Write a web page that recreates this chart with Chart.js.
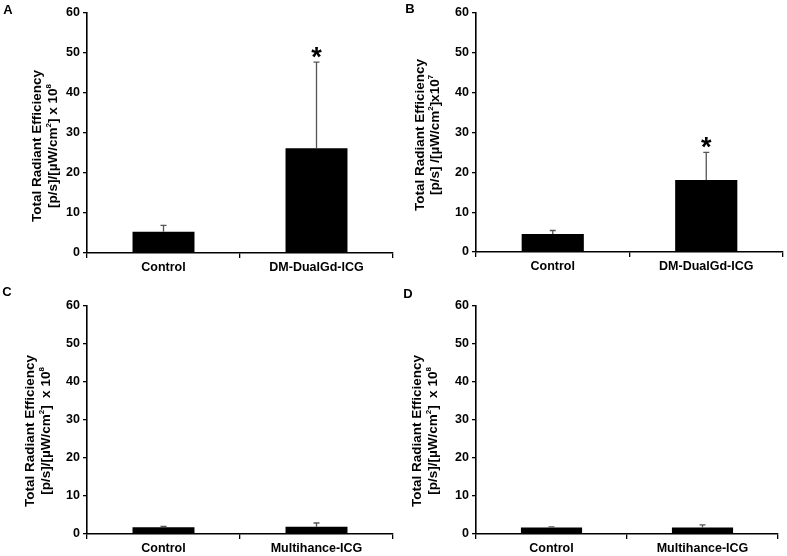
<!DOCTYPE html>
<html>
<head>
<meta charset="utf-8">
<script src="https://cdn.jsdelivr.net/npm/chart.js@4"></script>
<style>
  body { margin: 0; background: #fff; }
  #wrap { position: relative; width: 787px; height: 556px; }
  canvas { position: absolute; }
</style>
</head>
<body>
<div id="wrap">
  <canvas id="chartA" width="395" height="280" style="left:0;top:0"></canvas>
  <canvas id="chartB" width="397" height="280" style="left:390px;top:0"></canvas>
  <canvas id="chartC" width="395" height="276" style="left:0;top:280px"></canvas>
  <canvas id="chartD" width="397" height="276" style="left:390px;top:280px"></canvas>
</div>
<script>
// 데이터
const categoriesAB = ['Control', 'DM-DualGd-ICG'];
const categoriesCD = ['Control', 'Multihance-ICG'];
const yTicks = [0, 10, 20, 30, 40, 50, 60];

const meanA = [5.3, 26.2];
const errA = [1.6, 21.5];
const sigA = [false, true];

const meanB = [4.5, 18.1];
const errB = [0.9, 6.9];
const sigB = [false, true];

const meanC = [1.8, 1.9];
const errC = [0.2, 1.0];
const sigC = [false, false];

const meanD = [1.7, 1.7];
const errD = [0.2, 0.7];
const sigD = [false, false];

const FONT = 'Arial, "Liberation Sans", sans-serif';

// 위첨자 포함 텍스트 한 줄 그리기 (가운데 정렬)
function drawRich(ctx, segs, x, y, size) {
    const supSize = Math.round(size * 0.58);
    let total = 0;
    segs.forEach(s => {
        ctx.font = 'bold ' + (s.sup ? supSize : size) + 'px ' + FONT;
        total += ctx.measureText(s.t).width;
    });
    let cx = x - total / 2;
    segs.forEach(s => {
        ctx.font = 'bold ' + (s.sup ? supSize : size) + 'px ' + FONT;
        ctx.fillText(s.t, cx, s.sup ? y - size * 0.3 : y);
        cx += ctx.measureText(s.t).width;
    });
}

const extrasPlugin = {
    id: 'extras',
    afterDatasetsDraw(chart, args, opts) {
        const ctx = chart.ctx;
        const x = chart.scales.x;
        const y = chart.scales.y;
        ctx.save();
        // 에러바 (위쪽만)
        opts.mean.forEach((m, i) => {
            const px = x.getPixelForValue(i);
            const top = y.getPixelForValue(m + opts.err[i]);
            const base = y.getPixelForValue(m);
            ctx.strokeStyle = '#555';
            ctx.lineWidth = 1.3;
            ctx.beginPath();
            ctx.moveTo(px, base);
            ctx.lineTo(px, top);
            ctx.moveTo(px - 3, top);
            ctx.lineTo(px + 3, top);
            ctx.stroke();
            if (opts.sig[i]) {
                ctx.fillStyle = '#000';
                ctx.font = 'bold 27px ' + FONT;
                ctx.textAlign = 'center';
                ctx.textBaseline = 'alphabetic';
                ctx.fillText('*', px, top + 4);
            }
        });
        // 패널 문자
        ctx.fillStyle = '#000';
        ctx.textAlign = 'center';
        ctx.textBaseline = 'middle';
        ctx.font = 'bold 13px ' + FONT;
        ctx.fillText(opts.letter, opts.letterPos[0], opts.letterPos[1]);
        // y축 제목 (회전)
        ctx.textAlign = 'left';
        opts.title.forEach((line, k) => {
            ctx.save();
            ctx.translate(opts.titleX[k], opts.titleY);
            ctx.rotate(-Math.PI / 2);
            drawRich(ctx, line, 0, 0, 13.5);
            ctx.restore();
        });
        ctx.restore();
    }
};

function makePanel(id, labels, mean, err, sig, p) {
    const ctx = document.getElementById(id).getContext('2d');
    return new Chart(ctx, {
        type: 'bar',
        data: {
            labels: labels,
            datasets: [{
                data: mean,
                backgroundColor: '#000',
                borderWidth: 0,
                barPercentage: 0.81,
                categoryPercentage: 0.5
            }]
        },
        options: {
            responsive: false,
            animation: false,
            layout: { padding: { top: p.top, right: p.right, left: 0, bottom: 0 } },
            plugins: {
                legend: { display: false },
                tooltip: { enabled: false },
                extras: {
                    mean: mean, err: err, sig: sig,
                    letter: p.letter, letterPos: p.letterPos,
                    title: p.title, titleX: p.titleX, titleY: p.titleY
                }
            },
            scales: {
                x: {
                    afterFit(scale) { scale.height = p.xH; },
                    border: { color: '#000', width: 1.6 },
                    grid: { drawOnChartArea: false, offset: true, tickLength: 5, color: '#000', lineWidth: 1.3 },
                    ticks: { color: '#000', font: { family: FONT, size: 12.5, weight: 'bold' }, padding: 2, maxRotation: 0 }
                },
                y: {
                    min: 0, max: 60,
                    afterFit(scale) { scale.width = p.yW; },
                    afterBuildTicks(scale) { scale.ticks = yTicks.map(v => ({ value: v })); },
                    border: { color: '#000', width: 1.6 },
                    grid: { drawOnChartArea: false, tickLength: 4, color: '#000', lineWidth: 1.3 },
                    ticks: { color: '#000', font: { family: FONT, size: 12.5, weight: 'bold' }, padding: 3 }
                }
            }
        },
        plugins: [extrasPlugin]
    });
}

const title8 = [
    [{ t: 'Total Radiant Efficiency' }],
    [{ t: '[p/s]/[\u00b5W/cm' }, { t: '2', sup: true }, { t: '] x 10' }, { t: '8', sup: true }]
];
const title7 = [
    [{ t: 'Total Radiant Efficiency' }],
    [{ t: '[p/s] /[\u00b5W/cm' }, { t: '2', sup: true }, { t: ']x10' }, { t: '7', sup: true }]
];
const title8b = [
    [{ t: 'Total Radiant Efficiency' }],
    [{ t: '[p/s]/[\u00b5W/cm' }, { t: '2', sup: true }, { t: ']  x 10' }, { t: '8', sup: true }]
];

makePanel('chartA', categoriesAB, meanA, errA, sigA,
    { top: 13, right: 2, xH: 27, yW: 87, letter: 'A', letterPos: [8, 10], title: title8, titleX: [37, 53], titleY: 146 });
makePanel('chartB', categoriesAB, meanB, errB, sigB,
    { top: 13, right: 4, xH: 28, yW: 86, letter: 'B', letterPos: [20, 9], title: title7, titleX: [30, 45], titleY: 135 });
makePanel('chartC', categoriesCD, meanC, errC, sigC,
    { top: 26, right: 2, xH: 22, yW: 87, letter: 'C', letterPos: [7, 12], title: title8b, titleX: [30, 46], titleY: 151 });
makePanel('chartD', categoriesCD, meanD, errD, sigD,
    { top: 26, right: 9, xH: 22, yW: 86, letter: 'D', letterPos: [18, 14], title: title8b, titleX: [27, 43], titleY: 151 });
</script>
</body>
</html>
